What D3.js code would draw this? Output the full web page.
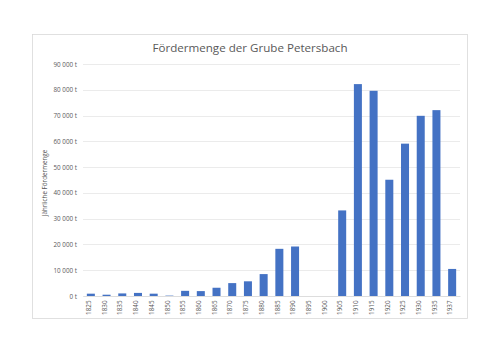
<!DOCTYPE html>
<html>
<head>
<meta charset="utf-8">
<script src="https://cdn.jsdelivr.net/npm/d3@7"></script>
<style>
  body { margin: 0; background: #fff; }
  text { font-family: "Open Sans", "Noto Sans", sans-serif; }
</style>
</head>
<body>
<svg id="chart"></svg>
<script>
const width = 500;
const height = 354;

// Daten
const years = ['1825','1830','1835','1840','1845','1850','1855','1860','1865','1870','1875','1880','1885','1890','1895','1900','1905','1910','1915','1920','1925','1930','1935','1937'];
const tonnage = [900, 500, 1000, 1200, 900, 150, 2000, 1900, 3200, 5000, 5700, 8500, 18300, 19200, 0, 0, 33200, 82200, 79600, 45100, 59100, 69900, 72100, 10500];
const yTicks = [0, 10000, 20000, 30000, 40000, 50000, 60000, 70000, 80000, 90000];
const title = 'Fördermenge der Grube Petersbach';
const yTitle = 'Jährliche Fördermenge';

const margin = {left: 83, right: 40, top: 64, bottom: 58};

const svg = d3.select("#chart")
            .attr("width", width)
            .attr("height", height);

// Rahmen
svg.append("rect")
    .attr("x", 32.5)
    .attr("y", 34.5)
    .attr("width", 435)
    .attr("height", 284)
    .attr("fill", "white")
    .attr("stroke", "#d9d9d9")
    .attr("stroke-width", 0.8);

var x = d3.scaleBand()
        .domain(years)
        .range([margin.left, width - margin.right])
        .paddingInner(0.49)
        .paddingOuter(0.245);

var y = d3.scaleLinear()
        .domain([0, 90000])
        .range([height - margin.bottom, margin.top]);

const fmt = v => d3.format(",")(v).replace(/,/g, " ") + " t";

// Gitterlinien
svg.append("g")
    .selectAll("line")
    .data(yTicks)
    .enter()
    .append("line")
    .attr("x1", margin.left)
    .attr("x2", width - margin.right)
    .attr("y1", d => Math.round(y(d)) + 0.5)
    .attr("y2", d => Math.round(y(d)) + 0.5)
    .attr("stroke", "#e6e6e6")
    .attr("stroke-width", 0.8);

// y-Achse
const yAxis = svg.append("g")
    .attr("transform", `translate(${margin.left - 6},0)`)
    .call(d3.axisLeft(y).tickValues(yTicks).tickFormat(fmt).tickSize(0).tickPadding(0));
yAxis.select(".domain").remove();
yAxis.selectAll("text")
    .attr("fill", "#595959")
    .style("font-size", "6.3px");

// Balken
svg.append("g")
    .selectAll("rect")
    .data(tonnage)
    .enter()
    .append("rect")
    .attr("x", (d, i) => x(years[i]))
    .attr("width", x.bandwidth())
    .attr("y", d => y(d))
    .attr("height", d => y(0) - y(d))
    .attr("fill", "#4472c4");

// x-Achse
const xAxis = svg.append("g")
    .attr("transform", `translate(0,${y(0)})`)
    .call(d3.axisBottom(x).tickSize(0).tickPadding(0));
xAxis.select(".domain")
    .attr("stroke", "#d9d9d9")
    .attr("stroke-width", 0.8);
xAxis.selectAll("text")
    .attr("fill", "#595959")
    .style("font-size", "6.3px")
    .attr("text-anchor", "end")
    .attr("transform", "translate(-2,4.5) rotate(-90)")
    .attr("dy", "0.35em")
    .attr("x", 0)
    .attr("y", 0);

// Titel
svg.append("text")
    .attr("x", 250)
    .attr("y", 52)
    .attr("text-anchor", "middle")
    .attr("fill", "#595959")
    .style("font-size", "11.6px")
    .text(title);

// y-Titel
svg.append("text")
    .attr("transform", "translate(47,183) rotate(-90)")
    .attr("text-anchor", "middle")
    .attr("fill", "#595959")
    .style("font-size", "6.3px")
    .text(yTitle);
</script>
</body>
</html>
